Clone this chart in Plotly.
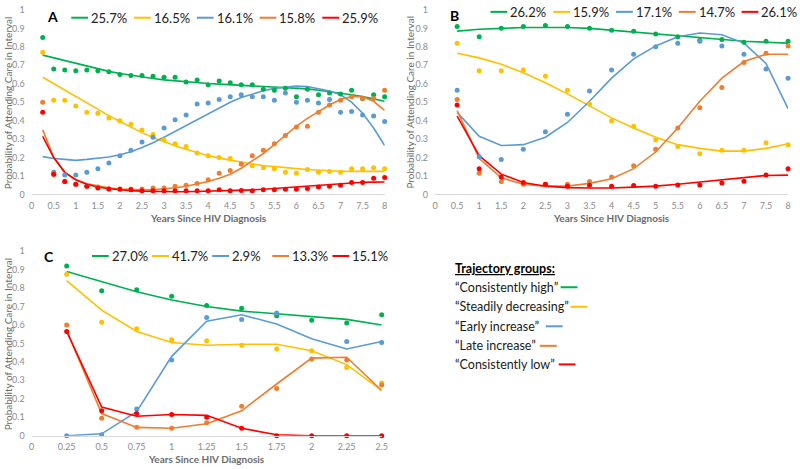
import plotly.graph_objects as go

W, H = 800, 469

COLORS = ["#00B050", "#FFC000", "#5B9BD5", "#ED7D31", "#FF0000"]
GROUP_NAMES = ["“Consistently high”", "“Steadily decreasing”", "“Early increase”",
               "“Late increase”", "“Consistently low”"]

# ---------------- Panel A ----------------
x_A = [0.25, 0.5, 0.75, 1, 1.25, 1.5, 1.75, 2, 2.25, 2.5, 2.75, 3, 3.25, 3.5, 3.75, 4,
       4.25, 4.5, 4.75, 5, 5.25, 5.5, 5.75, 6, 6.25, 6.5, 6.75, 7, 7.25, 7.5, 7.75, 8]
pct_A = ["25.7%", "16.5%", "16.1%", "15.8%", "25.9%"]
green_obs_A = [0.85, 0.68, 0.675, 0.67, 0.675, 0.67, 0.665, 0.65, 0.645, 0.645, 0.64, 0.635, 0.635, 0.61, 0.62, 0.595,
               0.615, 0.605, 0.595, 0.595, 0.57, 0.565, 0.575, 0.53, 0.57, 0.54, 0.55, 0.545, 0.565, 0.52, 0.54, 0.53]
green_fit_A = [0.755, 0.74, 0.725, 0.71, 0.695, 0.68, 0.667, 0.655, 0.645, 0.636, 0.628, 0.621, 0.615, 0.61, 0.605, 0.601,
               0.598, 0.595, 0.592, 0.59, 0.588, 0.585, 0.582, 0.578, 0.572, 0.565, 0.558, 0.55, 0.54, 0.53, 0.518, 0.505]
yellow_obs_A = [0.77, 0.51, 0.51, 0.48, 0.445, 0.44, 0.415, 0.40, 0.38, 0.35, 0.325, 0.295, 0.275, 0.26, 0.225, 0.21,
                0.2, 0.195, 0.165, 0.155, 0.145, 0.14, 0.12, 0.115, 0.135, 0.12, 0.125, 0.12, 0.14, 0.14, 0.145, 0.14]
yellow_fit_A = [0.635, 0.60, 0.565, 0.53, 0.495, 0.46, 0.427, 0.395, 0.364, 0.335, 0.309, 0.285, 0.264, 0.245, 0.227, 0.21,
                0.197, 0.185, 0.174, 0.165, 0.157, 0.15, 0.145, 0.14, 0.135, 0.131, 0.128, 0.126, 0.125, 0.125, 0.125, 0.125]
blue_obs_A = [None, 0.12, 0.105, 0.105, 0.12, 0.14, 0.17, 0.21, 0.24, 0.285, 0.31, 0.36, 0.405, 0.43, 0.49, 0.495,
              0.515, 0.53, 0.54, 0.53, 0.53, 0.51, 0.55, 0.5, 0.51, 0.495, 0.515, 0.445, 0.45, 0.43, 0.425, 0.395]
blue_fit_A = [0.205, 0.195, 0.19, 0.185, 0.19, 0.195, 0.203, 0.215, 0.232, 0.255, 0.28, 0.31, 0.342, 0.375, 0.408, 0.44,
              0.472, 0.5, 0.525, 0.545, 0.562, 0.575, 0.583, 0.587, 0.585, 0.572, 0.56, 0.54, 0.5, 0.44, 0.36, 0.265]
orange_obs_A = [0.5, 0.11, 0.07, 0.055, 0.045, 0.04, 0.03, 0.03, 0.03, 0.03, 0.035, 0.035, 0.045, 0.05, 0.06, 0.08,
                0.115, 0.13, 0.165, 0.21, 0.24, 0.275, 0.32, 0.365, 0.37, 0.445, 0.485, 0.51, 0.53, 0.52, 0.52, 0.565]
orange_fit_A = [0.35, 0.2, 0.12, 0.08, 0.058, 0.045, 0.036, 0.03, 0.027, 0.025, 0.026, 0.03, 0.036, 0.045, 0.056, 0.07,
                0.088, 0.11, 0.142, 0.18, 0.222, 0.27, 0.32, 0.37, 0.412, 0.45, 0.485, 0.515, 0.53, 0.53, 0.505, 0.455]
red_obs_A = [0.445, 0.11, 0.07, 0.055, 0.045, 0.035, 0.03, 0.028, 0.025, 0.02, 0.02, 0.02, 0.02, 0.02, 0.02, 0.02,
             0.025, 0.02, 0.022, 0.02, 0.025, 0.025, 0.028, 0.028, 0.032, 0.04, 0.045, 0.05, 0.065, 0.065, 0.088, 0.092]
red_fit_A = [0.315, 0.2, 0.12, 0.08, 0.055, 0.04, 0.031, 0.025, 0.021, 0.018, 0.016, 0.015, 0.015, 0.015, 0.016, 0.018,
             0.019, 0.02, 0.022, 0.025, 0.028, 0.032, 0.037, 0.042, 0.047, 0.052, 0.056, 0.06, 0.063, 0.066, 0.067, 0.068]

# ---------------- Panel B ----------------
x_B = [0.5, 1, 1.5, 2, 2.5, 3, 3.5, 4, 4.5, 5, 5.5, 6, 6.5, 7, 7.5, 8]
pct_B = ["26.2%", "15.9%", "17.1%", "14.7%", "26.1%"]
green_obs_B = [0.91, 0.855, 0.9, 0.91, 0.915, 0.91, 0.9, 0.89, 0.885, 0.87, 0.855, 0.835, 0.84, 0.825, 0.83, 0.83]
green_fit_B = [0.885, 0.895, 0.9, 0.905, 0.905, 0.905, 0.9, 0.89, 0.88, 0.87, 0.86, 0.85, 0.84, 0.83, 0.825, 0.82]
yellow_obs_B = [0.82, 0.67, 0.67, 0.675, 0.64, 0.565, 0.49, 0.4, 0.37, 0.295, 0.26, 0.22, 0.24, 0.24, 0.28, 0.27]
yellow_fit_B = [0.765, 0.74, 0.705, 0.66, 0.605, 0.545, 0.48, 0.415, 0.36, 0.31, 0.27, 0.25, 0.235, 0.235, 0.25, 0.275]
blue_obs_B = [0.565, 0.205, 0.19, 0.245, 0.34, 0.435, 0.56, 0.675, 0.76, 0.8, 0.82, 0.83, 0.805, 0.76, 0.68, 0.63]
blue_fit_B = [0.445, 0.315, 0.265, 0.27, 0.31, 0.39, 0.505, 0.63, 0.735, 0.805, 0.855, 0.875, 0.865, 0.82, 0.71, 0.465]
orange_obs_B = [0.515, 0.115, 0.07, 0.055, 0.055, 0.055, 0.07, 0.095, 0.155, 0.245, 0.36, 0.47, 0.58, 0.715, 0.765, 0.805]
orange_fit_B = [0.455, 0.195, 0.09, 0.055, 0.045, 0.045, 0.06, 0.085, 0.14, 0.23, 0.36, 0.505, 0.63, 0.72, 0.76, 0.76]
red_obs_B = [0.485, 0.14, 0.095, 0.065, 0.055, 0.045, 0.05, 0.045, 0.048, 0.045, 0.052, 0.052, 0.062, 0.072, 0.105, 0.14]
red_fit_B = [0.425, 0.21, 0.11, 0.065, 0.045, 0.037, 0.035, 0.035, 0.04, 0.045, 0.055, 0.067, 0.08, 0.093, 0.103, 0.105]

# ---------------- Panel C ----------------
x_C = [0.25, 0.5, 0.75, 1, 1.25, 1.5, 1.75, 2, 2.25, 2.5]
pct_C = ["27.0%", "41.7%", "2.9%", "13.3%", "15.1%"]
green_obs_C = [0.92, 0.785, 0.79, 0.755, 0.705, 0.69, 0.65, 0.625, 0.61, 0.655]
green_fit_C = [0.89, 0.835, 0.78, 0.735, 0.7, 0.675, 0.66, 0.645, 0.63, 0.6]
yellow_obs_C = [0.875, 0.615, 0.58, 0.52, 0.515, 0.49, 0.47, 0.46, 0.37, 0.285]
yellow_fit_C = [0.84, 0.68, 0.565, 0.505, 0.49, 0.495, 0.495, 0.46, 0.385, 0.245]
blue_obs_C = [0.0, 0.005, 0.145, 0.41, 0.64, 0.63, 0.665, None, 0.51, 0.505]
blue_fit_C = [0.0, 0.01, 0.13, 0.43, 0.62, 0.655, 0.605, 0.525, 0.47, 0.51]
orange_obs_C = [0.6, 0.095, 0.045, 0.04, 0.07, 0.16, 0.255, 0.415, 0.41, 0.275]
orange_fit_C = [0.57, 0.12, 0.045, 0.04, 0.065, 0.135, 0.28, 0.42, 0.425, 0.245]
red_obs_C = [0.565, 0.135, 0.12, 0.115, 0.1, 0.04, 0.0, 0.0, 0.0, 0.0]
red_fit_C = [0.565, 0.155, 0.105, 0.115, 0.11, 0.04, 0.005, 0.0, 0.0, 0.0]

panels = [
    dict(label="A", x=x_A, pct=pct_A, xmax=8, dtick=0.5, ax="x", ay="y",
         obs=[green_obs_A, yellow_obs_A, blue_obs_A, orange_obs_A, red_obs_A],
         fit=[green_fit_A, yellow_fit_A, blue_fit_A, orange_fit_A, red_fit_A],
         box=(29, 386, 4, 193), lab=(50, 11), hdr=(69, 12, 63.5), ytitle_x=5),
    dict(label="B", x=x_B, pct=pct_B, xmax=8, dtick=0.5, ax="x2", ay="y2",
         obs=[green_obs_B, yellow_obs_B, blue_obs_B, orange_obs_B, red_obs_B],
         fit=[green_fit_B, yellow_fit_B, blue_fit_B, orange_fit_B, red_fit_B],
         box=(437, 794, 4, 193), lab=(457, 10), hdr=(493, 6, 63.5), ytitle_x=412),
    dict(label="C", x=x_C, pct=pct_C, xmax=2.5, dtick=0.25, ax="x3", ay="y3",
         obs=[green_obs_C, yellow_obs_C, blue_obs_C, orange_obs_C, red_obs_C],
         fit=[green_fit_C, yellow_fit_C, blue_fit_C, orange_fit_C, red_fit_C],
         box=(29, 383, 251, 440), lab=(47, 257), hdr=(90, 256, 60.8), ytitle_x=5),
]

FONT = "Lato, 'Liberation Sans', sans-serif"
TICK_COLOR = "#8c8c8c"
TITLE_COLOR = "#6b6b6b"

def px(xp):
    return xp / W

def py(yp):
    return 1 - yp / H

fig = go.Figure()
layout = dict(width=W, height=H, margin=dict(l=0, r=0, t=0, b=0),
              paper_bgcolor="white", plot_bgcolor="white", showlegend=False,
              font=dict(family=FONT))
annotations = []
shapes = []

for i, p in enumerate(panels):
    x0, x1, y0, y1 = p["box"]
    for k in range(5):
        fig.add_trace(go.Scatter(x=p["x"], y=p["fit"][k], mode="lines",
                                 line=dict(color=COLORS[k], width=1.6),
                                 xaxis=p["ax"], yaxis=p["ay"], hoverinfo="skip",
                                 cliponaxis=False))
    for k in range(5):
        fig.add_trace(go.Scatter(x=p["x"], y=p["obs"][k], mode="markers",
                                 marker=dict(color=COLORS[k], size=5),
                                 xaxis=p["ax"], yaxis=p["ay"], hoverinfo="skip",
                                 cliponaxis=False))
    xkey = "xaxis" if i == 0 else f"xaxis{i+1}"
    ykey = "yaxis" if i == 0 else f"yaxis{i+1}"
    layout[xkey] = dict(domain=[px(x0), px(x1)], range=[0, p["xmax"]], dtick=p["dtick"], tick0=0,
                        anchor=p["ay"], showgrid=False, zeroline=False, showline=True,
                        linecolor="#d9d9d9", linewidth=1, ticks="",
                        tickfont=dict(size=9, color=TICK_COLOR, family=FONT),
                        ticklabelstandoff=3, ticklabeloverflow="allow", fixedrange=True)
    layout[ykey] = dict(domain=[py(y1), py(y0)], range=[0, 1], dtick=0.1, tick0=0,
                        anchor=p["ax"], showgrid=False, zeroline=False, showline=False,
                        ticks="", tickfont=dict(size=9, color=TICK_COLOR, family=FONT),
                        ticklabelstandoff=6, ticklabeloverflow="allow", fixedrange=True)
    # panel letter
    annotations.append(dict(x=px(p["lab"][0]), y=py(p["lab"][1]), xref="paper", yref="paper",
                            text=f"<b>{p['label']}</b>", showarrow=False, xanchor="center",
                            yanchor="middle", font=dict(size=14, color="#000000", family=FONT)))
    # header legend
    hx, hy, step = p["hdr"]
    for k in range(5):
        sx = hx + k * step
        shapes.append(dict(type="line", xref="paper", yref="paper",
                           x0=px(sx), x1=px(sx + 17), y0=py(hy), y1=py(hy),
                           line=dict(color=COLORS[k], width=2)))
        annotations.append(dict(x=px(sx + 18), y=py(hy), xref="paper", yref="paper",
                                text=p["pct"][k], showarrow=False, xanchor="left", yanchor="middle",
                                font=dict(size=13, color="#222222", family=FONT)))
    # axis titles
    annotations.append(dict(x=px((x0 + x1) / 2), y=py(y1 + 24), xref="paper", yref="paper",
                            text="<b>Years Since HIV Diagnosis</b>", showarrow=False,
                            xanchor="center", yanchor="middle",
                            font=dict(size=10, color=TITLE_COLOR, family=FONT)))
    annotations.append(dict(x=px(p["ytitle_x"]), y=py((y0 + y1) / 2), xref="paper", yref="paper",
                            text="Probability of Attending Care in Interval", showarrow=False,
                            textangle=-90, xanchor="center", yanchor="middle",
                            font=dict(size=10, color=TITLE_COLOR, family=FONT)))

# trajectory group legend box
annotations.append(dict(x=px(455), y=py(269), xref="paper", yref="paper",
                        text="<b><u>Trajectory groups:</u></b>", showarrow=False,
                        xanchor="left", yanchor="middle",
                        font=dict(size=12.5, color="#000000", family=FONT)))
leg_rows = [288, 308, 328, 348, 367]
leg_seg = [564, 574, 549, 543, 562]
for k in range(5):
    annotations.append(dict(x=px(455), y=py(leg_rows[k]), xref="paper", yref="paper",
                            text=GROUP_NAMES[k], showarrow=False, xanchor="left", yanchor="middle",
                            font=dict(size=12.5, color="#1a1a1a", family=FONT)))
    shapes.append(dict(type="line", xref="paper", yref="paper",
                       x0=px(leg_seg[k]), x1=px(leg_seg[k] + 17),
                       y0=py(leg_rows[k]), y1=py(leg_rows[k]),
                       line=dict(color=COLORS[k], width=2)))

layout["annotations"] = annotations
layout["shapes"] = shapes
fig.update_layout(**layout)
fig.write_html("out.html", config={"displayModeBar": False},
               post_script="document.body.style.margin='0';document.body.style.padding='0';")
